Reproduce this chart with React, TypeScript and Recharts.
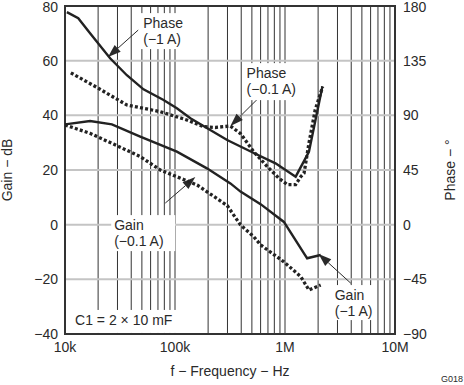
import {
  LineChart,
  Line,
  XAxis,
  YAxis,
  CartesianGrid,
  ReferenceArea,
  ReferenceLine,
  ReferenceDot,
} from "recharts";

// values (frequency in Hz)
const phase1AFreq = [10400, 13200, 16900, 25700, 36500, 51700, 78700, 104000, 138000, 298000, 520000, 820000, 1250000, 1650000, 2190000];
const phase1AValue = [175, 170, 157.5, 137, 123, 111.4, 102.6, 95.8, 87.6, 69.7, 59, 50.5, 39.5, 60, 114];

const phase01AFreq = [11300, 20100, 36500, 73500, 128000, 182000, 233000, 319000, 394000, 520000, 692000, 881000, 1050000, 1250000, 1390000, 1490000, 1650000, 1880000, 2200000];
const phase01AValue = [125, 112.3, 98.5, 93, 86.2, 80.7, 80, 81.2, 75, 60, 47.7, 38.2, 33, 33, 39.5, 42.3, 67, 94.4, 113.6];

const gain1AFreq = [10000, 16900, 26700, 48300, 104000, 195000, 319000, 394000, 600000, 977000, 1590000, 2110000];
const gain1AValue = [36.7, 37.9, 36.7, 32.2, 26.7, 20.6, 15.1, 12.1, 7.5, 1, -12.3, -11.1];

const gain01AFreq = [10000, 16900, 27600, 48300, 73500, 159000, 298000, 394000, 520000, 600000, 977000, 1390000, 1650000, 2110000];
const gain01AValue = [36.5, 33.4, 29.5, 24.9, 20, 14.5, 7, -0.1, -4.4, -7.4, -13.6, -19, -23.9, -22.1];

const gainTicks = [-40, -20, 0, 20, 40, 60, 80];
const phaseTicks = [-90, -45, 0, 45, 90, 135, 180];
const decadeLabels: Record<number, string> = { 10000: "10k", 100000: "100k", 1000000: "1M", 10000000: "10M" };

const freqTicks: number[] = [];
[10000, 100000, 1000000].forEach((d) => {
  for (let m = 1; m < 10; m++) freqTicks.push(m * d);
});
freqTicks.push(10000000);

const rows = (f: number[], v: number[]) => f.map((x, i) => ({ f: x, v: v[i] }));

const FONT = "'Liberation Sans', Arial, sans-serif";
const INK = "#2a2a2a";
const minus = (v: number) => String(v).replace("-", "\u2212");

// y tick, the top one nudged down a little so it stays inside the page
const YTick = (top: number) => (p: any) => (
  <text
    x={p.x}
    y={p.y + (p.payload.value === top ? 1.5 : 0)}
    dy="0.355em"
    textAnchor={p.textAnchor}
    fontSize={14}
    fontFamily={FONT}
    fill={INK}
  >
    {minus(p.payload.value)}
  </text>
);

const Arrow = (p: any) => {
  const { x1, y1, x2, y2 } = p;
  const dx = x2 - x1;
  const dy = y2 - y1;
  const len = Math.sqrt(dx * dx + dy * dy);
  const ux = dx / len;
  const uy = dy / len;
  const hl = 13;
  const hw = 4.5;
  const bx = x2 - ux * hl;
  const by = y2 - uy * hl;
  return (
    <g>
      <line x1={x1} y1={y1} x2={bx} y2={by} stroke={INK} strokeWidth={1} />
      <polygon
        points={`${x2},${y2} ${bx - uy * hw},${by + ux * hw} ${bx + uy * hw},${by - ux * hw}`}
        fill={INK}
      />
    </g>
  );
};

const labelShape = (lines: string[], w: number, h: number) => (p: any) => (
  <g>
    <rect x={p.cx} y={p.cy} width={w} height={h} fill="#fff" />
    {lines.map((t, i) => (
      <text key={i} x={p.cx + 3} y={p.cy + 15 + i * 15.5} fontSize={14} fontFamily={FONT} fill={INK}>
        {t}
      </text>
    ))}
  </g>
);

export default function App() {
  return (
    <div style={{ position: "absolute", left: 0, top: 0, width: 464, height: 385, background: "#fff" }}>
      <LineChart width={464} height={385} margin={{ top: 6, right: 0, left: 0, bottom: 0 }}>
        <CartesianGrid yAxisId="gain" horizontal={false} stroke="#333" strokeWidth={1} />
        <CartesianGrid yAxisId="gain" vertical={false} stroke="#c4c4c4" strokeWidth={2} />
        <XAxis
          dataKey="f"
          type="number"
          scale="log"
          domain={[10000, 10000000]}
          ticks={freqTicks}
          interval={0}
          tickFormatter={(v: number) => decadeLabels[v] ?? ""}
          tickSize={0}
          tickMargin={8}
          axisLine={false}
          height={51}
          allowDataOverflow
          tick={{ fontSize: 14, fontFamily: FONT, fill: INK }}
          label={{ value: "f \u2212 Frequency \u2212 Hz", position: "insideBottom", offset: 9, style: { fontSize: 14, fontFamily: FONT, fill: INK } }}
        />
        <YAxis
          yAxisId="gain"
          orientation="left"
          domain={[-40, 80]}
          ticks={gainTicks}
          interval={0}
          width={65}
          tickSize={0}
          tickMargin={7}
          axisLine={false}
          tick={YTick(80)}
          label={{ value: "Gain \u2212 dB", angle: -90, position: "insideLeft", offset: 7, style: { textAnchor: "middle", fontSize: 14, fontFamily: FONT, fill: INK } }}
        />
        <YAxis
          yAxisId="phase"
          orientation="right"
          domain={[-90, 180]}
          ticks={phaseTicks}
          interval={0}
          width={69}
          tickSize={0}
          tickMargin={8}
          axisLine={false}
          tick={YTick(180)}
          label={{ value: "Phase \u2212 \u00b0", angle: -90, position: "insideRight", offset: 14, style: { textAnchor: "middle", fontSize: 14, fontFamily: FONT, fill: INK } }}
        />

        <ReferenceDot yAxisId="gain" x={11600} y={-31.2} r={1} ifOverflow="visible" shape={labelShape(["C1 = 2 \u00d7 10 mF"], 113, 23)} />
        <ReferenceDot yAxisId="gain" x={48300} y={77.4} r={1} ifOverflow="visible" shape={labelShape(["Phase", "(\u22121 A)"], 46, 36)} />
        <ReferenceDot yAxisId="gain" x={420000} y={59.1} r={1} ifOverflow="visible" shape={labelShape(["Phase", "(\u22120.1 A)"], 56, 37)} />
        <ReferenceDot yAxisId="gain" x={26300} y={3.5} r={1} ifOverflow="visible" shape={labelShape(["Gain", "(\u22120.1 A)"], 64, 36)} />
        <ReferenceDot yAxisId="gain" x={2660000} y={-22.1} r={1} ifOverflow="visible" shape={labelShape(["Gain", "(\u22121 A)"], 44, 35)} />

        <ReferenceLine yAxisId="gain" segment={[{ x: 46300, y: 71.2 }, { x: 24600, y: 61.3 }]} shape={Arrow} ifOverflow="visible" />
        <ReferenceLine yAxisId="gain" segment={[{ x: 574000, y: 46.3 }, { x: 319000, y: 36.1 }]} shape={Arrow} ifOverflow="visible" />
        <ReferenceLine yAxisId="gain" segment={[{ x: 81600, y: 7.9 }, { x: 153000, y: 17.4 }]} shape={Arrow} ifOverflow="visible" />
        <ReferenceLine yAxisId="gain" segment={[{ x: 3960000, y: -21.4 }, { x: 2020000, y: -10.7 }]} shape={Arrow} ifOverflow="visible" />

        <Line yAxisId="phase" data={rows(phase1AFreq, phase1AValue)} dataKey="v" type="linear" stroke="#222" strokeWidth={2.4} dot={false} isAnimationActive={false} />
        <Line yAxisId="phase" data={rows(phase01AFreq, phase01AValue)} dataKey="v" type="linear" stroke="#222" strokeWidth={3.3} strokeDasharray="3 2.2" dot={false} isAnimationActive={false} />
        <Line yAxisId="gain" data={rows(gain1AFreq, gain1AValue)} dataKey="v" type="linear" stroke="#222" strokeWidth={2.4} dot={false} isAnimationActive={false} />
        <Line yAxisId="gain" data={rows(gain01AFreq, gain01AValue)} dataKey="v" type="linear" stroke="#222" strokeWidth={3.3} strokeDasharray="3 2.2" dot={false} isAnimationActive={false} />

        <ReferenceArea yAxisId="gain" x1={10000} x2={10000000} y1={-40} y2={80} fill="none" stroke="#333" strokeWidth={2} ifOverflow="visible" />
      </LineChart>
      <div style={{ position: "absolute", left: 441, top: 374, fontSize: 9, fontFamily: FONT, color: INK, lineHeight: "10px" }}>
        G018
      </div>
    </div>
  );
}
